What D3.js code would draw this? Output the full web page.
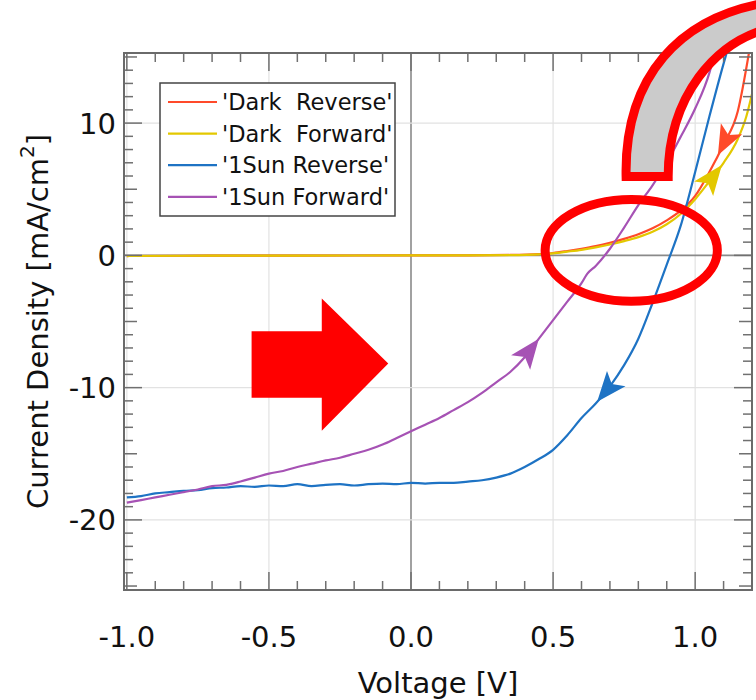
<!DOCTYPE html>
<html>
<head>
<meta charset="utf-8">
<script src="https://cdn.jsdelivr.net/npm/d3@7"></script>
<style>
  body { margin: 0; background: #fff; }
  svg { display: block; }
</style>
</head>
<body>
<svg></svg>
<script>
// J-V curves, dark and 1 sun, both sweep directions

const WIDTH = 756;
const HEIGHT = 700;
const PLOT_LEFT = 124;
const PLOT_RIGHT = 752;
const PLOT_TOP = 53;
const PLOT_BOTTOM = 590;

// --- data (voltage in V, current density in mA/cm2) ---
const seriesNames = ["'Dark  Reverse'", "'Dark  Forward'", "'1Sun Reverse'", "'1Sun Forward'"];
const seriesColors = ['#ff4a2a', '#e3c800', '#1e73c4', '#a652b4'];

const darkReverseV = [-1.0, -0.8, -0.6, -0.4, -0.2, 0.0, 0.2, 0.35, 0.45, 0.5, 0.55, 0.6, 0.65, 0.7, 0.75, 0.8, 0.85, 0.9, 0.95, 1.0, 1.05, 1.1, 1.15, 1.19];
const darkReverseJ = [-0.05, -0.03, -0.02, -0.02, -0.01, 0.0, 0.0, 0.03, 0.1, 0.18, 0.33, 0.5, 0.7, 0.95, 1.25, 1.6, 2.05, 2.65, 3.4, 4.5, 6.3, 8.4, 10.9, 15.4];

const darkForwardV = [-1.0, -0.8, -0.6, -0.4, -0.2, 0.0, 0.2, 0.35, 0.45, 0.5, 0.55, 0.6, 0.65, 0.7, 0.75, 0.8, 0.85, 0.9, 0.95, 1.0, 1.05, 1.1, 1.15, 1.18, 1.2];
const darkForwardJ = [-0.05, -0.03, -0.02, -0.02, -0.01, 0.0, 0.0, 0.02, 0.08, 0.15, 0.28, 0.42, 0.6, 0.82, 1.08, 1.38, 1.78, 2.35, 3.15, 4.25, 5.6, 7.0, 8.8, 10.5, 12.2];

const sunReverseV = [-1.0, -0.95, -0.9, -0.85, -0.8, -0.75, -0.7, -0.65, -0.6, -0.55, -0.5, -0.45, -0.4, -0.35, -0.3, -0.25, -0.2, -0.15, -0.1, -0.05, 0.0, 0.05, 0.1, 0.15, 0.2, 0.25, 0.3, 0.35, 0.4, 0.45, 0.5, 0.55, 0.6, 0.65, 0.7, 0.75, 0.8, 0.85, 0.9, 0.95, 1.0, 1.05, 1.1, 1.12];
const sunReverseJ = [-18.3, -18.2, -18.0, -17.9, -17.8, -17.75, -17.6, -17.55, -17.45, -17.5, -17.4, -17.45, -17.3, -17.45, -17.35, -17.3, -17.4, -17.3, -17.25, -17.3, -17.2, -17.25, -17.2, -17.2, -17.1, -17.0, -16.8, -16.5, -16.0, -15.4, -14.7, -13.6, -12.3, -11.2, -9.9, -8.3, -6.3, -3.6, -0.7, 2.3, 6.3, 10.5, 14.5, 16.0];

const sunForwardV = [-1.0, -0.95, -0.9, -0.85, -0.8, -0.75, -0.7, -0.65, -0.6, -0.55, -0.5, -0.45, -0.4, -0.35, -0.3, -0.25, -0.2, -0.15, -0.1, -0.05, 0.0, 0.05, 0.1, 0.15, 0.2, 0.25, 0.3, 0.35, 0.4, 0.45, 0.5, 0.55, 0.6, 0.62, 0.65, 0.7, 0.75, 0.8, 0.85, 0.9, 0.95, 1.0, 1.05, 1.07];
const sunForwardJ = [-18.7, -18.5, -18.3, -18.1, -17.9, -17.7, -17.45, -17.35, -17.1, -16.8, -16.5, -16.3, -16.0, -15.75, -15.5, -15.3, -15.0, -14.7, -14.3, -13.8, -13.3, -12.8, -12.3, -11.7, -11.1, -10.4, -9.6, -8.8, -7.7, -6.3, -4.9, -3.5, -2.1, -1.4, -0.8, 0.5, 2.1, 3.8, 5.3, 7.0, 9.0, 11.1, 13.8, 15.4];

// where the sweep arrows sit (voltage of the tip) and which way they point
const arrowAtV = [1.08, 1.094, 0.655, 0.45];
const arrowDir = [-1, 1, -1, 1];

const xTicks = [-1.0, -0.5, 0.0, 0.5, 1.0];
const yTicks = [10, 0, -10, -20];

const svg = d3.select('svg')
  .attr('width', WIDTH)
  .attr('height', HEIGHT)
  .attr('font-family', '"DejaVu Sans", sans-serif');

const x = d3.scaleLinear().domain([-1.01, 1.2]).range([PLOT_LEFT, PLOT_RIGHT]);
const y = d3.scaleLinear().domain([-25.3, 15.3]).range([PLOT_BOTTOM, PLOT_TOP]);

svg.append('defs').append('clipPath').attr('id', 'plot-clip')
  .append('rect')
  .attr('x', PLOT_LEFT).attr('y', PLOT_TOP)
  .attr('width', PLOT_RIGHT - PLOT_LEFT).attr('height', PLOT_BOTTOM - PLOT_TOP);

// grid
const grid = svg.append('g');
grid.selectAll('.gx').data(xTicks).enter().append('line')
  .attr('x1', d => x(d)).attr('x2', d => x(d))
  .attr('y1', PLOT_TOP).attr('y2', PLOT_BOTTOM)
  .attr('stroke', d => d === 0 ? '#8a8a8a' : '#e2e2e2')
  .attr('stroke-width', d => d === 0 ? 1.6 : 1.2);
grid.selectAll('.gy').data(yTicks).enter().append('line')
  .attr('x1', PLOT_LEFT).attr('x2', PLOT_RIGHT)
  .attr('y1', d => y(d)).attr('y2', d => y(d))
  .attr('stroke', d => d === 0 ? '#8a8a8a' : '#e2e2e2')
  .attr('stroke-width', d => d === 0 ? 1.6 : 1.2);

// curves
const curves = [
  { v: darkReverseV, j: darkReverseJ },
  { v: darkForwardV, j: darkForwardJ },
  { v: sunReverseV, j: sunReverseJ },
  { v: sunForwardV, j: sunForwardJ }
];

const line = d3.line().x(d => x(d[0])).y(d => y(d[1])).curve(d3.curveMonotoneX);

const curveG = svg.append('g').attr('clip-path', 'url(#plot-clip)');
curves.forEach((c, i) => {
  curveG.append('path')
    .datum(d3.zip(c.v, c.j))
    .attr('d', line)
    .attr('fill', 'none')
    .attr('stroke', seriesColors[i])
    .attr('stroke-width', 2.2)
    .attr('stroke-linejoin', 'round');
});

// sweep arrows
function interpJ(c, v) {
  const i = Math.max(1, d3.bisectLeft(c.v, v));
  const t = (v - c.v[i - 1]) / (c.v[i] - c.v[i - 1]);
  return c.j[i - 1] + t * (c.j[i] - c.j[i - 1]);
}
curves.forEach((c, i) => {
  const v = arrowAtV[i];
  const tx = x(v), ty = y(interpJ(c, v));
  const v2 = v - arrowDir[i] * 0.02;
  const bx = x(v2), by = y(interpJ(c, v2));
  const ang = Math.atan2(ty - by, tx - bx) * 180 / Math.PI;
  curveG.append('path')
    .attr('d', 'M0,0 L-30,-12 L-23,0 L-30,12 Z')
    .attr('transform', `translate(${tx},${ty}) rotate(${ang})`)
    .attr('fill', seriesColors[i]);
});

// frame + ticks
const axes = svg.append('g').attr('stroke', '#707070').attr('stroke-width', 1.5);
const xMinor = d3.range(-10, 13).map(d => d / 10);
const yMinor = d3.range(-25, 16);
const xLen = d => Math.abs(d * 2 - Math.round(d * 2)) < 1e-6 ? 18 : 9;
const yLen = d => d % 10 === 0 ? 18 : (d % 5 === 0 ? 13 : 9);

xMinor.forEach(d => {
  axes.append('line').attr('x1', x(d)).attr('x2', x(d)).attr('y1', PLOT_BOTTOM).attr('y2', PLOT_BOTTOM - xLen(d));
  axes.append('line').attr('x1', x(d)).attr('x2', x(d)).attr('y1', PLOT_TOP).attr('y2', PLOT_TOP + xLen(d));
});
yMinor.forEach(d => {
  axes.append('line').attr('x1', PLOT_LEFT).attr('x2', PLOT_LEFT + yLen(d)).attr('y1', y(d)).attr('y2', y(d));
  axes.append('line').attr('x1', PLOT_RIGHT).attr('x2', PLOT_RIGHT - yLen(d)).attr('y1', y(d)).attr('y2', y(d));
});
svg.append('rect')
  .attr('x', PLOT_LEFT).attr('y', PLOT_TOP)
  .attr('width', PLOT_RIGHT - PLOT_LEFT).attr('height', PLOT_BOTTOM - PLOT_TOP)
  .attr('fill', 'none').attr('stroke', '#6a6a6a').attr('stroke-width', 2);

// tick labels (plain hyphen minus, like the original)
const fmtX = d => d.toFixed(1);
svg.selectAll('.xl').data(xTicks).enter().append('text')
  .attr('x', d => x(d)).attr('y', 647)
  .attr('text-anchor', 'middle')
  .attr('font-size', 29).attr('fill', '#111')
  .text(fmtX);
svg.selectAll('.yl').data(yTicks).enter().append('text')
  .attr('x', 116).attr('y', d => y(d))
  .attr('dy', '0.36em')
  .attr('text-anchor', 'end')
  .attr('font-size', 29).attr('fill', '#111')
  .text(d => String(d));

// axis titles
svg.append('text')
  .attr('x', (PLOT_LEFT + PLOT_RIGHT) / 2).attr('y', 693)
  .attr('text-anchor', 'middle')
  .attr('font-size', 29).attr('fill', '#111')
  .text('Voltage [V]');

const yTitle = svg.append('text')
  .attr('transform', `translate(48, ${(PLOT_TOP + PLOT_BOTTOM) / 2}) rotate(-90)`)
  .attr('text-anchor', 'middle')
  .attr('font-size', 29).attr('fill', '#111');
yTitle.append('tspan').text('Current Density [mA/cm');
yTitle.append('tspan').attr('dy', -14).attr('font-size', 20).text('2');
yTitle.append('tspan').attr('dy', 14).text(']');

// legend
const legend = svg.append('g');
legend.append('rect')
  .attr('x', 160).attr('y', 83).attr('width', 235).attr('height', 133)
  .attr('fill', '#fff').attr('stroke', '#444').attr('stroke-width', 1.5);
seriesNames.forEach((name, i) => {
  const ly = 102 + i * 31.6;
  legend.append('line')
    .attr('x1', 168).attr('x2', 217).attr('y1', ly).attr('y2', ly)
    .attr('stroke', seriesColors[i]).attr('stroke-width', 2.2);
  legend.append('text')
    .attr('x', 222).attr('y', ly).attr('dy', '0.36em')
    .attr('font-size', 22.5).attr('fill', '#111')
    .attr('xml:space', 'preserve')
    .style('white-space', 'pre')
    .text(name);
});

// annotations (placed in data coordinates)
const ann = svg.append('g');
const bigArrow = [[-0.561, -5.74], [-0.314, -5.74], [-0.314, -3.27], [-0.08, -8.17], [-0.314, -13.26], [-0.314, -10.77], [-0.561, -10.77]];
ann.append('path')
  .attr('d', 'M' + bigArrow.map(p => [x(p[0]), y(p[1])].join(',')).join('L') + 'Z')
  .attr('fill', '#ff0000');

ann.append('ellipse')
  .attr('cx', x(0.775)).attr('cy', y(0.38))
  .attr('rx', x(0.775 + 0.303) - x(0.775)).attr('ry', y(0) - y(3.85))
  .attr('fill', 'none').attr('stroke', '#ff0000').attr('stroke-width', 9);

const P = (v, j) => `${x(v)},${y(j)}`;
ann.append('path')
  .attr('d', `M${P(0.757, 5.96)} C${P(0.750, 13.21)} ${P(0.933, 18.34)} ${P(1.3, 19.25)}` +
    ` L${P(1.3, 17.36)} C${P(1.060, 16.45)} ${P(0.905, 11.70)} ${P(0.905, 5.96)} Z`)
  .attr('fill', '#cbcbcb').attr('stroke', '#ff0000').attr('stroke-width', 9)
  .attr('stroke-linejoin', 'miter');
</script>
</body>
</html>
